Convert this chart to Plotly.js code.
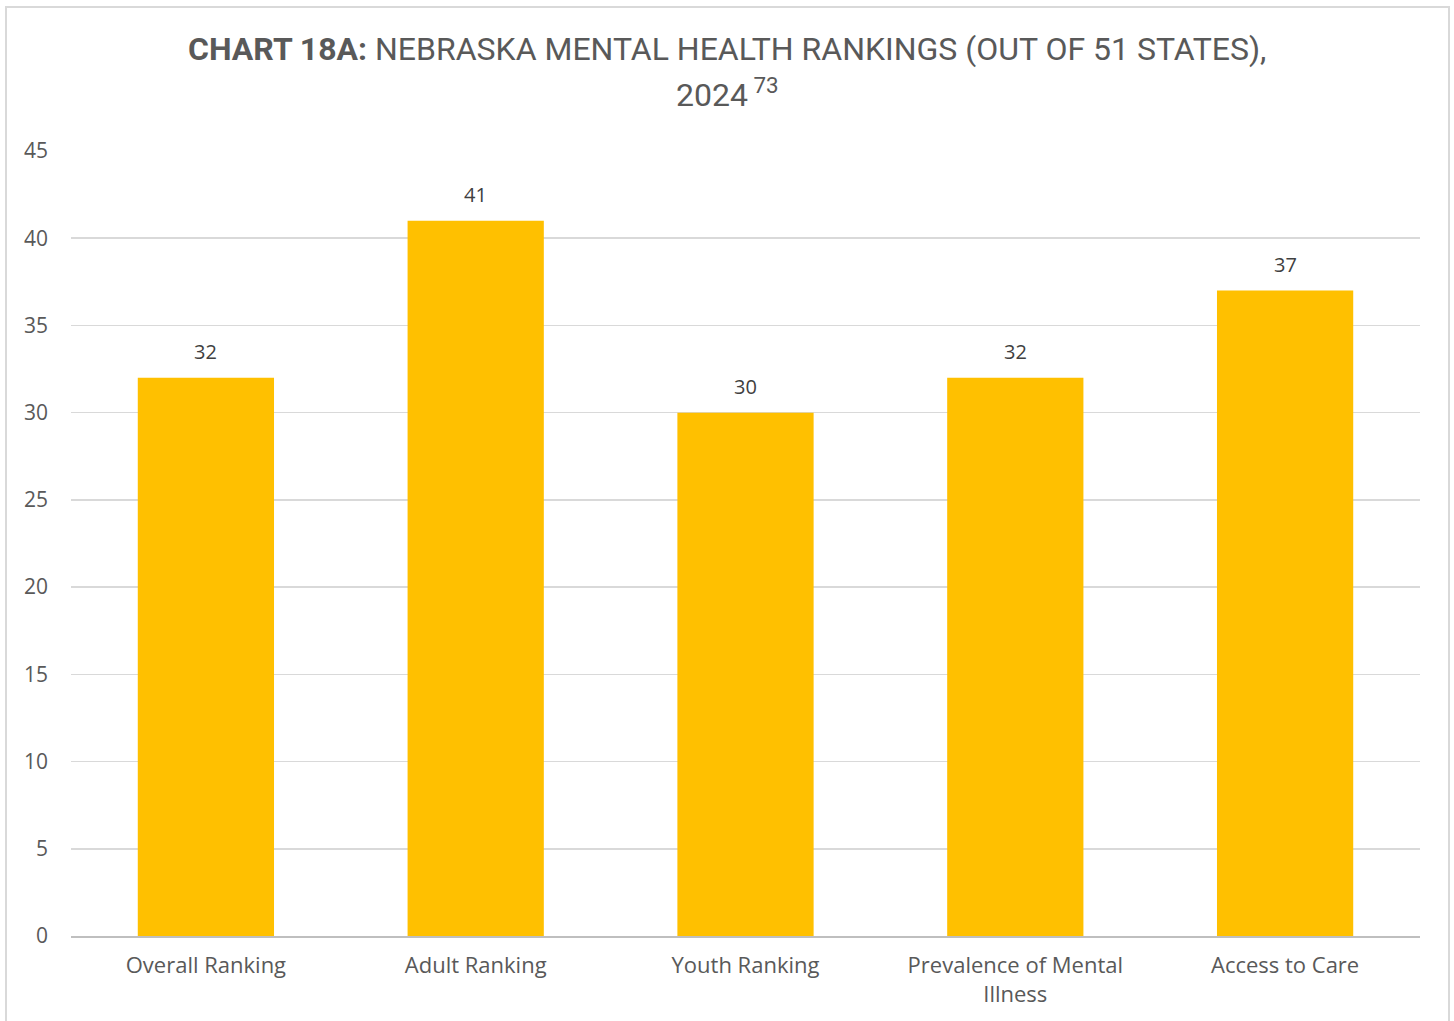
<!DOCTYPE html>
<html>
<head>
<meta charset="utf-8">
<script src="https://cdn.plot.ly/plotly-3.0.1.min.js"></script>
<style>
html,body{margin:0;padding:0;background:#fff;}
#chart{width:1454px;height:1021px;}
</style>
</head>
<body>
<div id="chart"></div>
<script>
const categories = ["Overall Ranking", "Adult Ranking", "Youth Ranking", "Prevalence of Mental<br>Illness", "Access to Care"];
const rankings = [32, 41, 30, 32, 37];
const yTicks = [0, 5, 10, 15, 20, 25, 30, 35, 40, 45];
const titleLine1 = "<b>CHART 18A:</b> NEBRASKA MENTAL HEALTH RANKINGS (OUT OF 51 STATES),";
const titleLine2 = "2024<sup> 73</sup>";

const baseFont = "Open Sans, Noto Sans, sans-serif";
const titleFontFamily = "Liberation Sans Narrow, Roboto, sans-serif";

const trace = {
  type: "bar",
  x: categories,
  y: rankings,
  marker: {color: "#FFC000", line: {width: 0}},
  hoverinfo: "x+y"
};

const labelAnnotations = categories.map((c, i) => ({
  x: c, y: rankings[i], xref: "x", yref: "y",
  text: String(rankings[i]),
  showarrow: false, yanchor: "bottom", yshift: 11,
  font: {family: baseFont, size: 20, color: "#404040"}
}));

const titleX = (727 - 71) / 1349;
const titleAnnotations = [
  {text: titleLine1, x: titleX, y: (936 - 70) / 785},
  {text: titleLine2, x: titleX, y: (936 - 116) / 785}
].map(a => Object.assign({
  xref: "paper", yref: "paper", xanchor: "center", yanchor: "bottom",
  showarrow: false,
  font: {family: titleFontFamily, size: 32, color: "#595959"}
}, a));

const layout = {
  width: 1454, height: 1021,
  margin: {l: 71, r: 34, t: 151, b: 85},
  paper_bgcolor: "#ffffff",
  plot_bgcolor: "#ffffff",
  bargap: 0.495,
  showlegend: false,
  xaxis: {
    type: "category",
    showgrid: false,
    showline: true, linecolor: "#bfbfbf", linewidth: 1.5,
    ticks: "", tickfont: {family: baseFont, size: 22, color: "#595959"},
    ticklabelstandoff: 9,
    fixedrange: true
  },
  yaxis: {
    range: [0, 45],
    tickvals: yTicks,
    ticktext: yTicks.map(String),
    showgrid: true, gridcolor: "#d9d9d9", gridwidth: 1.5,
    zeroline: false, showline: false,
    ticks: "", tickfont: {family: baseFont, size: 21, color: "#595959"},
    ticklabelstandoff: 22,
    fixedrange: true
  },
  annotations: titleAnnotations.concat(labelAnnotations),
  shapes: [{
    type: "rect", xref: "paper", yref: "paper",
    x0: (6 - 71) / 1349, x1: (1449 - 71) / 1349,
    y0: -0.13, y1: (936 - 7) / 785,
    line: {color: "#d9d9d9", width: 2},
    fillcolor: "rgba(0,0,0,0)", layer: "below"
  }]
};

Plotly.newPlot("chart", [trace], layout, {displayModeBar: false, staticPlot: true});
</script>
</body>
</html>
